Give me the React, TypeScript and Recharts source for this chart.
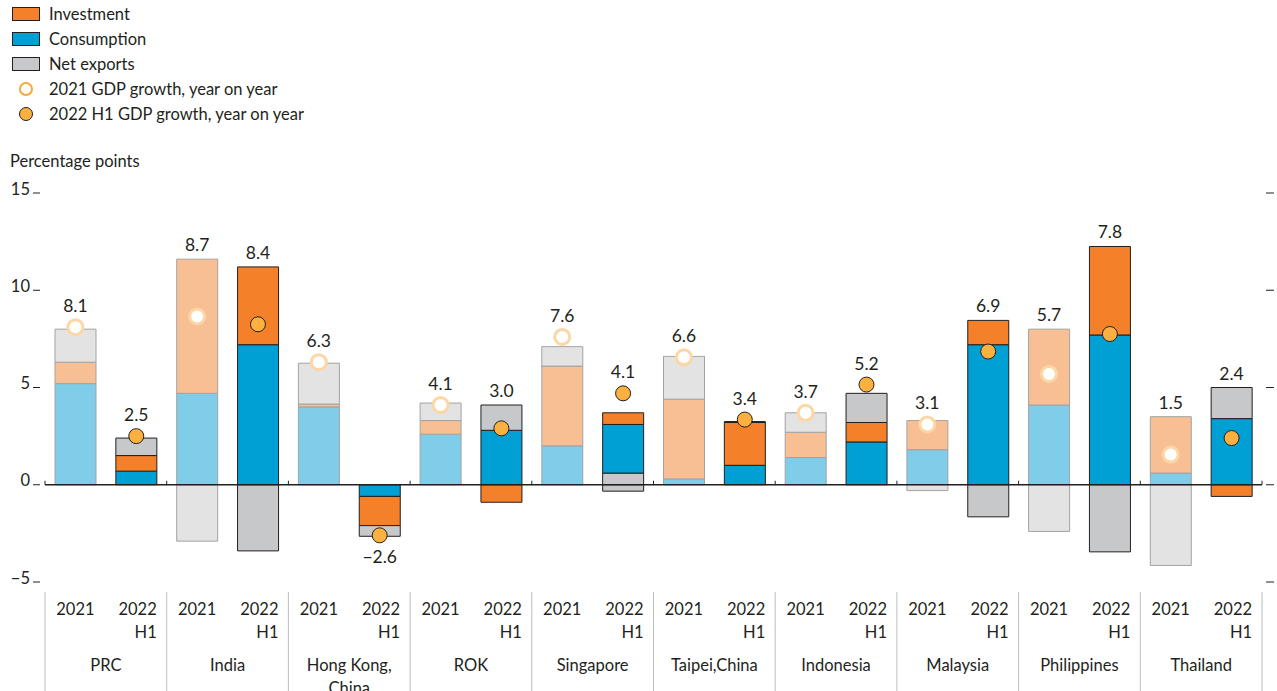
import React from 'react';
import {
  ComposedChart,
  Bar,
  Scatter,
  Cell,
  XAxis,
  YAxis,
  ReferenceLine,
} from 'recharts';

const economies = [
  'PRC',
  'India',
  'Hong Kong, China',
  'ROK',
  'Singapore',
  'Taipei,China',
  'Indonesia',
  'Malaysia',
  'Philippines',
  'Thailand',
];
const periods = ['2021', '2022 H1'];

// pairs: 2021, 2022 H1 for each economy
const consumption = [5.2, 0.7, 4.7, 7.2, 4.0, -0.6, 2.6, 2.8, 2.0, 2.5, 0.3, 1.0, 1.4, 2.2, 1.8, 7.2, 4.1, 7.7, 0.6, 3.4];
const investment = [1.1, 0.8, 6.9, 4.0, 0.15, -1.5, 0.7, -0.9, 4.1, 0.6, 4.1, 2.2, 1.3, 1.0, 1.5, 1.25, 3.9, 4.55, 2.9, -0.6];
const netExports = [1.7, 0.9, -2.9, -3.4, 2.1, -0.55, 0.9, 1.3, 1.0, -0.33, 2.2, 0.05, 1.0, 1.5, -0.3, -1.65, -2.4, -3.45, -4.15, 1.6];
// grey piece drawn under consumption (Singapore 2022 H1 only)
const netExportsBase = [0, 0, 0, 0, 0, 0, 0, 0, 0, 0.6, 0, 0, 0, 0, 0, 0, 0, 0, 0, 0];
const gdpDots = [8.1, 2.5, 8.65, 8.25, 6.3, -2.6, 4.1, 2.9, 7.6, 4.7, 6.55, 3.35, 3.7, 5.15, 3.1, 6.85, 5.7, 7.75, 1.55, 2.4];
const gdpLabels = ['8.1', '2.5', '8.7', '8.4', '6.3', '-2.6', '4.1', '3.0', '7.6', '4.1', '6.6', '3.4', '3.7', '5.2', '3.1', '6.9', '5.7', '7.8', '1.5', '2.4'];
const yTicks = [-5, 0, 5, 10, 15];

const FONT = 'Lato, "Open Sans", sans-serif';
const INK = '#231F20';
const FS = 16.5;

const colors = {
  inv: ['#F8BF95', '#F4812A'],
  cons: ['#7FCDE9', '#00A0D5'],
  nx: ['#E3E3E3', '#C7C8CA'],
  stroke: ['#A3A3A3', INK],
};

const W = 1277;
const H = 691;
const TOP = 193;
const BOTTOM = 582;
const LEFT = 45;
const RIGHT = 1262;
const BAND = (RIGHT - LEFT) / 20;
const ZERO_Y = TOP + (15 / 20) * (BOTTOM - TOP);

const data = economies.flatMap((economy, g) =>
  periods.map((period, k) => {
    const i = g * 2 + k;
    const parts = [netExportsBase[i], consumption[i], investment[i], netExports[i]];
    const pos = parts.filter((v) => v > 0).reduce((a, b) => a + b, 0);
    const neg = parts.filter((v) => v < 0).reduce((a, b) => a + b, 0);
    const label = gdpLabels[i];
    const negative = label.startsWith('-');
    return {
      key: `${economy}|${period}`,
      economy,
      period: k,
      base: netExportsBase[i],
      cons: consumption[i],
      inv: investment[i],
      nx: netExports[i],
      dot: gdpDots[i],
      label: label.replace('-', '\u2212'),
      negative,
      labelY: negative ? Math.min(neg, gdpDots[i] - 0.36) : Math.max(pos, gdpDots[i] + 0.36),
    };
  })
);

const XTick = (props: any) => {
  const { x, payload } = props;
  const [economy, period] = String(payload.value).split('|');
  const g = economies.indexOf(economy);
  const k = periods.indexOf(period);
  const style = { fontFamily: FONT, fontSize: FS, fill: INK };
  if (k === 0) {
    const left = x - BAND / 2;
    return (
      <g>
        <line x1={left} x2={left} y1={592} y2={H} stroke="#BDBDBD" strokeWidth={1} />
        <line x1={left} x2={left} y1={ZERO_Y - 4} y2={ZERO_Y} stroke={INK} strokeWidth={1} />
        <text x={x} y={615} textAnchor="middle" {...style}>2021</text>
      </g>
    );
  }
  const center = x - BAND / 2;
  const right = x + BAND / 2;
  const lines = economy === 'Hong Kong, China' ? ['Hong Kong,', 'China'] : [economy];
  return (
    <g>
      <text x={x + 20.5} y={615} textAnchor="end" {...style}>2022</text>
      <text x={x + 20.5} y={638} textAnchor="end" {...style}>H1</text>
      {lines.map((t, j) => (
        <text key={t} x={center} y={671 + j * 23} textAnchor="middle" {...style}>{t}</text>
      ))}
      {g === economies.length - 1 && (
        <g>
          <line x1={right} x2={right} y1={592} y2={H} stroke="#BDBDBD" strokeWidth={1} />
          <line x1={right} x2={right} y1={ZERO_Y - 4} y2={ZERO_Y} stroke={INK} strokeWidth={1} />
        </g>
      )}
    </g>
  );
};

const YTick = (props: any) => {
  const { y, payload } = props;
  const v = Number(payload.value);
  const txt = v < 0 ? `\u2212${Math.abs(v)}` : String(v);
  return (
    <g>
      <text x={30} y={y + 1.5} textAnchor="end" fontFamily={FONT} fontSize={FS} fill={INK}>{txt}</text>
      <line x1={33} x2={40} y1={y} y2={y} stroke={INK} strokeWidth={1} />
      <line x1={1266} x2={1274} y1={y} y2={y} stroke={INK} strokeWidth={1} />
    </g>
  );
};

const DotShape = (props: any) => {
  const { cx, cy, payload } = props;
  if (payload.period === 0) {
    return <circle cx={cx} cy={cy} r={7.5} fill="#FFFFFF" stroke="#FDD6A6" strokeWidth={3} />;
  }
  return <circle cx={cx} cy={cy} r={7.5} fill="#FBB040" stroke={INK} strokeWidth={1} />;
};

const LabelShape = (props: any) => {
  const { cx, cy, payload } = props;
  return (
    <text
      x={cx}
      y={payload.negative ? cy + 21 : cy - 8}
      textAnchor="middle"
      fontFamily={FONT}
      fontSize={17.5}
      fill={INK}
    >
      {payload.label}
    </text>
  );
};

const legendRows = [
  { kind: 'box', fill: colors.inv[1], text: 'Investment' },
  { kind: 'box', fill: colors.cons[1], text: 'Consumption' },
  { kind: 'box', fill: colors.nx[1], text: 'Net exports' },
  { kind: 'open', fill: '#FFFFFF', text: '2021 GDP growth, year on year' },
  { kind: 'dot', fill: '#FBB040', text: '2022 H1 GDP growth, year on year' },
];

const Legend = () => (
  <svg width={400} height={180} style={{ position: 'absolute', left: 0, top: 0 }}>
    {legendRows.map((r, i) => {
      const cy = 14 + i * 25;
      return (
        <g key={r.text}>
          {r.kind === 'box' && (
            <rect x={12.5} y={cy - 6.5} width={27} height={13} fill={r.fill} stroke={INK} strokeWidth={1} />
          )}
          {r.kind === 'open' && <circle cx={26} cy={cy} r={6} fill="#FFFFFF" stroke="#F9A93A" strokeWidth={2} />}
          {r.kind === 'dot' && <circle cx={26} cy={cy} r={6.5} fill={r.fill} stroke={INK} strokeWidth={1} />}
          <text x={49} y={cy + 5.5} fontFamily={FONT} fontSize={FS} fill={INK}>{r.text}</text>
        </g>
      );
    })}
    <text x={10} y={167} fontFamily={FONT} fontSize={FS} fill={INK}>Percentage points</text>
  </svg>
);

const segmentCells = (key: 'inv' | 'cons' | 'nx') =>
  data.map((d) => (
    <Cell key={d.key} fill={colors[key][d.period]} stroke={colors.stroke[d.period]} strokeWidth={1} />
  ));

export default function App() {
  return (
    <div style={{ position: 'absolute', left: 0, top: 0, width: W, height: H, background: '#fff', overflow: 'hidden' }}>
      <ComposedChart
        width={W}
        height={H}
        data={data}
        stackOffset="sign"
        margin={{ top: TOP, right: W - RIGHT, bottom: 0, left: 0 }}
      >
        <XAxis
          dataKey="key"
          interval={0}
          height={H - BOTTOM}
          axisLine={false}
          tickLine={false}
          tick={<XTick />}
        />
        <YAxis
          domain={[-5, 15]}
          ticks={yTicks}
          width={LEFT}
          axisLine={false}
          tickLine={false}
          tick={<YTick />}
        />
        <Bar dataKey="base" stackId="a" barSize={41} isAnimationActive={false}>
          {segmentCells('nx')}
        </Bar>
        <Bar dataKey="cons" stackId="a" barSize={41} isAnimationActive={false}>
          {segmentCells('cons')}
        </Bar>
        <Bar dataKey="inv" stackId="a" barSize={41} isAnimationActive={false}>
          {segmentCells('inv')}
        </Bar>
        <Bar dataKey="nx" stackId="a" barSize={41} isAnimationActive={false}>
          {segmentCells('nx')}
        </Bar>
        <ReferenceLine y={0} stroke={INK} strokeWidth={1.3} />
        <Scatter dataKey="dot" shape={<DotShape />} isAnimationActive={false} />
        <Scatter dataKey="labelY" shape={<LabelShape />} isAnimationActive={false} />
      </ComposedChart>
      <Legend />
    </div>
  );
}
